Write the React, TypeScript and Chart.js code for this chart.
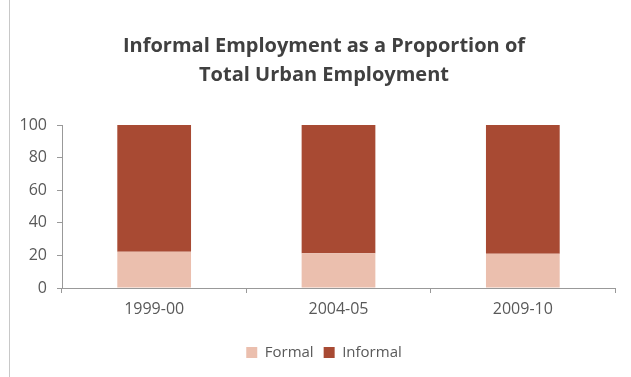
import React, { useEffect, useRef } from "react";
import { Chart, registerables } from "chart.js";

Chart.register(...registerables);

const categories = ["1999-00", "2004-05", "2009-10"];
const formalValues = [22.3, 21.3, 21.0];
const informalValues = [77.7, 78.7, 79.0];
const yTicks = [0, 20, 40, 60, 80, 100];
const titleLines = ["Informal Employment as a Proportion of", "Total Urban Employment"];

const FONT = "'Open Sans', 'Liberation Sans', sans-serif";

// Shift title and legend boxes so they are centred like the original (Excel) chart.
const centerShift = {
  id: "centerShift",
  afterLayout(chart: any) {
    const shift = 33;
    if (chart.titleBlock) {
      chart.titleBlock.left += shift;
    }
    if (chart.legend) {
      chart.legend.left += shift;
    }
  },
};

export default function App() {
  const ref = useRef<HTMLCanvasElement | null>(null);

  useEffect(() => {
    if (!ref.current) return;
    const chart = new Chart(ref.current, {
      type: "bar",
      data: {
        labels: categories,
        datasets: [
          {
            label: "Formal",
            data: formalValues,
            backgroundColor: "#EBBFAE",
            barPercentage: 0.4,
            categoryPercentage: 1,
          },
          {
            label: "Informal",
            data: informalValues,
            backgroundColor: "#A84A33",
            barPercentage: 0.4,
            categoryPercentage: 1,
          },
        ],
      },
      plugins: [centerShift],
      options: {
        animation: false,
        responsive: false,
        layout: { padding: { left: 0, right: 16, top: 0, bottom: 7 } },
        plugins: {
          title: {
            display: true,
            text: titleLines,
            color: "#404040",
            font: { family: FONT, size: 20, weight: "bold", lineHeight: 1.45 },
            padding: { top: 32, bottom: 35 },
          },
          legend: {
            position: "bottom",
            labels: {
              boxWidth: 11,
              boxHeight: 11,
              color: "#595959",
              font: { family: FONT, size: 15 },
              padding: 10,
            },
          },
          tooltip: { enabled: false },
        },
        scales: {
          x: {
            stacked: true,
            afterFit: (s: any) => {
              s.height = 47;
            },
            border: { color: "#999999", width: 1 },
            grid: {
              display: true,
              drawOnChartArea: false,
              offset: true,
              tickLength: 5,
              color: "#999999",
            },
            ticks: {
              color: "#595959",
              font: { family: FONT, size: 16 },
              padding: 7,
            },
          },
          y: {
            stacked: true,
            min: 0,
            max: 100,
            afterFit: (s: any) => {
              s.width = 62;
            },
            afterBuildTicks: (s: any) => {
              s.ticks = yTicks.map((v) => ({ value: v }));
            },
            border: { color: "#999999", width: 1 },
            grid: {
              display: true,
              drawOnChartArea: false,
              tickLength: 5,
              color: "#999999",
            },
            ticks: {
              color: "#595959",
              font: { family: FONT, size: 16 },
              padding: 10,
            },
          },
        },
      },
    });
    return () => chart.destroy();
  }, []);

  return (
    <div
      style={{
        position: "fixed",
        left: 0,
        top: 0,
        width: 631,
        height: 377,
        background: "#ffffff",
      }}
    >
      <div
        style={{
          position: "absolute",
          left: 9,
          top: 0,
          width: 1,
          height: 377,
          background: "#c8c8c8",
        }}
      />
      <canvas ref={ref} width={631} height={377} style={{ position: "absolute", left: 0, top: 0 }} />
    </div>
  );
}
